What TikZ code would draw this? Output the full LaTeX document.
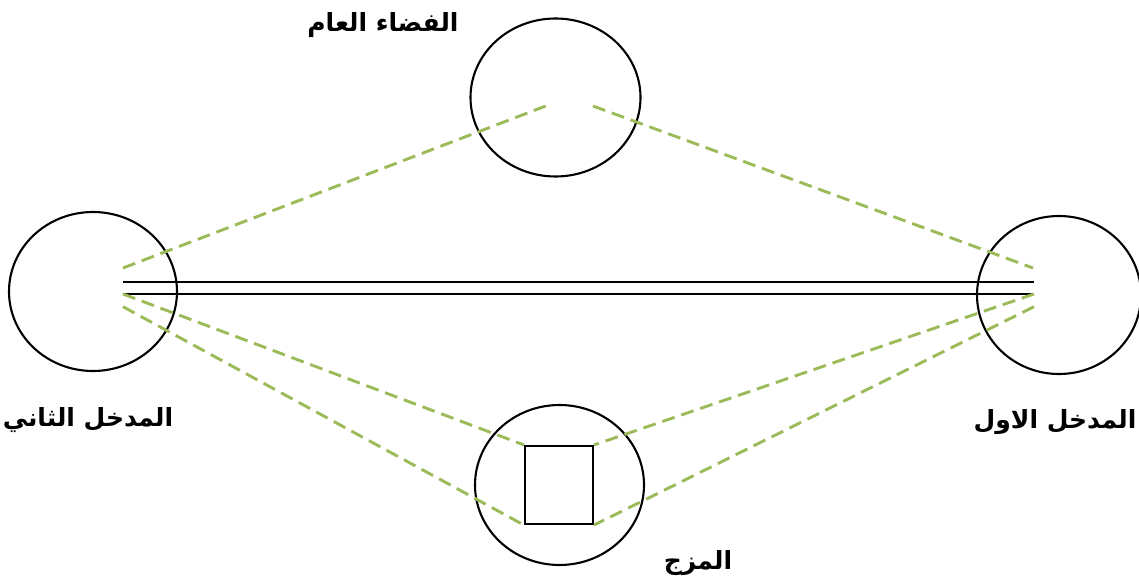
\documentclass[tikz,border=0pt]{standalone}
\usepackage{fontspec}
\usetikzlibrary{shapes.geometric}
\TeXXeTstate=1
\newfontfamily\arabicfont[Script=Arabic]{DejaVu Sans}
\definecolor{dgreen}{HTML}{9BBB59}
\begin{document}
\begin{tikzpicture}[x=1pt,y=-1pt,
  circ/.style={draw, ellipse, line width=2.1pt, inner sep=0pt},
  gdash/.style={draw=dgreen, line width=2.9pt, dash pattern=on 13pt off 7pt},
  rail/.style={draw, line width=2.1pt},
  lbl/.style={font=\arabicfont\bfseries\fontsize{25}{30}\selectfont, inner sep=0pt}]
\useasboundingbox (0,0) rectangle (1139,585);
% circles
\node[circ, minimum width=170pt, minimum height=158pt] (top) at (555.5,97.5) {};
\node[circ, minimum width=168pt, minimum height=159pt] (left) at (93,291.5) {};
\node[circ, minimum width=164pt, minimum height=158pt] (right) at (1059,295) {};
\node[circ, minimum width=169pt, minimum height=160pt] (bottom) at (559.5,485) {};
\node[draw, line width=2.1pt, inner sep=0pt, minimum width=68pt, minimum height=78pt] (sq) at (559,485) {};
% coordinates
\coordinate (tl) at (545.7,106);
\coordinate (tr) at (593,106);
\coordinate (l1) at (123,268);
\coordinate (l2) at (123,294);
\coordinate (l3) at (123,306.7);
\coordinate (la) at (123,282);
\coordinate (r1) at (1033,268);
\coordinate (r2) at (1034,294);
\coordinate (r3) at (1034,306.7);
\coordinate (ra) at (1034,282);
% double line
\draw[rail] (la) -- (ra);
\draw[rail] (l2) -- (r2);
% dashed lines
\draw[gdash] (l1) -- (tl);
\draw[gdash] (tr) -- (r1);
\draw[gdash] (l2) -- (sq.north west);
\draw[gdash] (l3) -- (sq.south west);
\draw[gdash] (r2) -- (sq.north east);
\draw[gdash] (r3) -- (sq.south east);
% labels
\node[lbl] (ltop) at (383,25) {\beginR الفضاء العام\endR};
\node[lbl] (lleft) at (88,420) {\beginR المدخل الثاني\endR};
\node[lbl] (lright) at (1055,422) {\beginR المدخل الاول\endR};
\node[lbl] (lbot) at (698,563) {\beginR المزج\endR};
\end{tikzpicture}
\end{document}
